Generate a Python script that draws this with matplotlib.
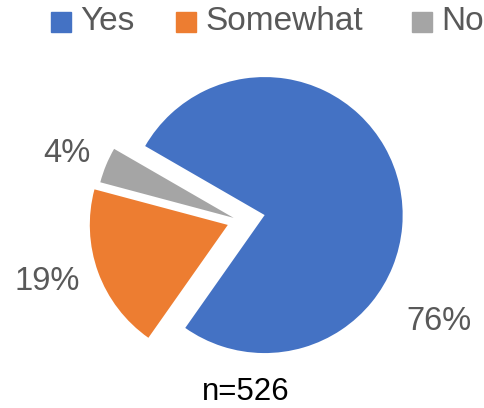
import matplotlib
matplotlib.use("Agg")
import matplotlib.pyplot as plt
from matplotlib.patches import Rectangle

plt.rcParams["font.family"] = ["Liberation Sans", "DejaVu Sans"]

# Survey responses
categories = ["Yes", "Somewhat", "No"]
counts = [402, 102, 22]
n_total = 526
colors = ["#4472C4", "#ED7D31", "#A5A5A5"]
explode = [0.183, 0.094, 0.05]

W, H = 485, 408
R_PX = 138.0            # pie radius in pixels
CX, CY = 240.0, 220.5   # pie centre, pixels from top-left

fig = plt.figure(figsize=(W / 100, H / 100), dpi=100)
ax = fig.add_axes([0, 0, 1, 1])
ax.pie(counts, colors=colors, startangle=150, counterclock=False,
       explode=explode, radius=1.0,
       wedgeprops=dict(linewidth=0))

ax.set_xlim(-CX / R_PX, (W - CX) / R_PX)
ax.set_ylim(-(H - CY) / R_PX, CY / R_PX)
ax.set_aspect("equal", adjustable="box")
ax.axis("off")


def px(x, y):
    """pixel (from top-left) -> data coords"""
    return (x - CX) / R_PX, (CY - y) / R_PX


# percentage labels
label_px = [(439, 322), (47.5, 282), (66.5, 153)]
total = sum(counts)
for v, (lx, ly) in zip(counts, label_px):
    dx, dy = px(lx, ly)
    ax.text(dx, dy, f"{round(v / total * 100)}%", ha="center", va="center",
            fontsize=23.5, color="#595959")

# legend across the top
leg_x = [51, 176, 412]
for name, c, x0 in zip(categories, colors, leg_x):
    fig.patches.append(Rectangle((x0 / W, 1 - 31.7 / H), 20 / W, 20 / H,
                                 transform=fig.transFigure, color=c))
    fig.text((x0 + 29) / W, 1 - 21.5 / H, name, ha="left", va="center",
             fontsize=24, color="#595959")

# sample size
fig.text(245.5 / W, 1 - 392 / H, f"n={n_total}", ha="center", va="center",
         fontsize=22.5, color="black")

fig.savefig("out.png", dpi=100)
